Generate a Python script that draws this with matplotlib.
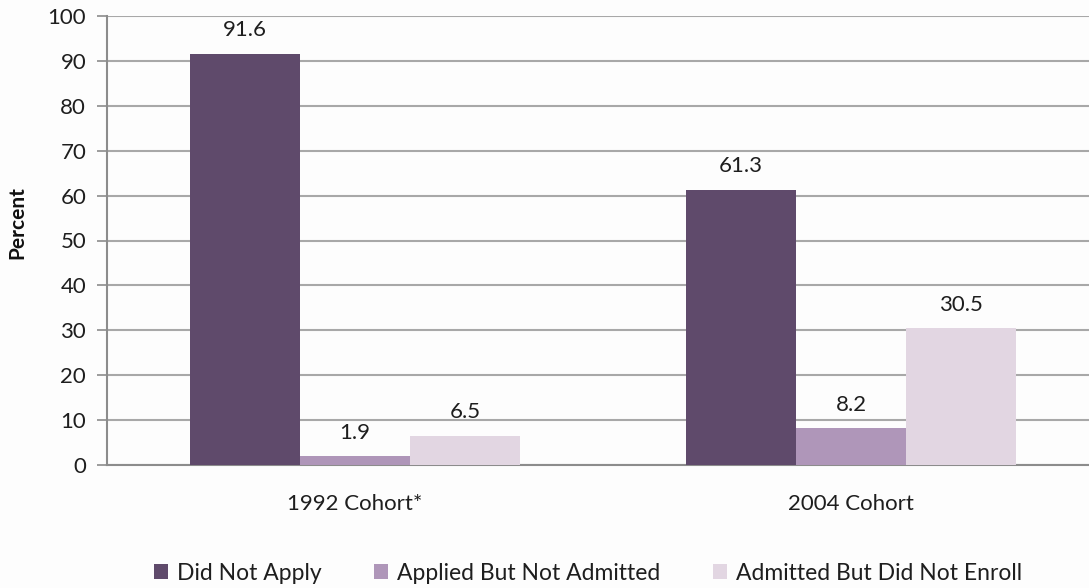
import matplotlib
matplotlib.use("Agg")
import matplotlib.pyplot as plt
import numpy as np

plt.rcParams['font.family'] = ['Lato', 'DejaVu Sans']

cohorts = ["1992 Cohort*", "2004 Cohort"]
series_names = ["Did Not Apply", "Applied But Not Admitted", "Admitted But Did Not Enroll"]
did_not_apply = [91.6, 61.3]
applied_not_admitted = [1.9, 8.2]
admitted_not_enrolled = [6.5, 30.5]
colors = ["#5f4a6b", "#af96b9", "#e2d6e2"]
y_ticks = [0, 10, 20, 30, 40, 50, 60, 70, 80, 90, 100]

text_color = "#1e1e1e"
fs = 16

fig = plt.figure(figsize=(10.89, 5.88), dpi=100)
fig.patch.set_facecolor("#fdfdfd")
ax = fig.add_axes([107 / 1089, 1 - 465 / 588, (1089 - 107) / 1089, (465 - 16) / 588])
ax.set_facecolor("#fdfdfd")

x = np.arange(len(cohorts))
width = 0.222
values = [did_not_apply, applied_not_admitted, admitted_not_enrolled]
for i, (name, vals, c) in enumerate(zip(series_names, values, colors)):
    pos = x + (i - 1) * width
    ax.bar(pos, vals, width=width, color=c, label=name, zorder=3)
    for p, v in zip(pos, vals):
        ax.text(p, v + 3.0, f"{v:.1f}", ha="center", va="bottom",
                fontsize=fs, color=text_color, zorder=4)

ax.set_xlim(-0.5, 1.48)
ax.set_ylim(0, 100)
ax.set_yticks(y_ticks)
ax.set_xticks(x)
ax.set_xticklabels(cohorts, fontsize=fs, color=text_color)
ax.tick_params(axis="x", length=0, pad=21)
ax.tick_params(axis="y", length=7, width=1.2, color="#8c8c8c", labelsize=fs,
               labelcolor=text_color, pad=8)
ax.yaxis.grid(True, color="#a8a8a8", linewidth=1.5, zorder=0)
for side in ["top", "right"]:
    ax.spines[side].set_visible(False)
ax.spines["left"].set_color("#8c8c8c")
ax.spines["left"].set_linewidth(1.5)
ax.spines["bottom"].set_color("#8c8c8c")
ax.spines["bottom"].set_linewidth(1.5)

fig.text(17 / 1089, 1 - 223 / 588, "Percent", rotation=90, ha="center", va="center",
         fontsize=15, fontweight="bold", color="#111111")

leg = fig.legend(loc="center", bbox_to_anchor=(588 / 1089, 1 - 573 / 588), ncol=3,
                 frameon=False, fontsize=16.5, handlelength=0.6, handleheight=0.6,
                 handletextpad=0.4, columnspacing=2.3)
for t in leg.get_texts():
    t.set_color(text_color)

fig.savefig("out.png", dpi=100, facecolor=fig.get_facecolor())
